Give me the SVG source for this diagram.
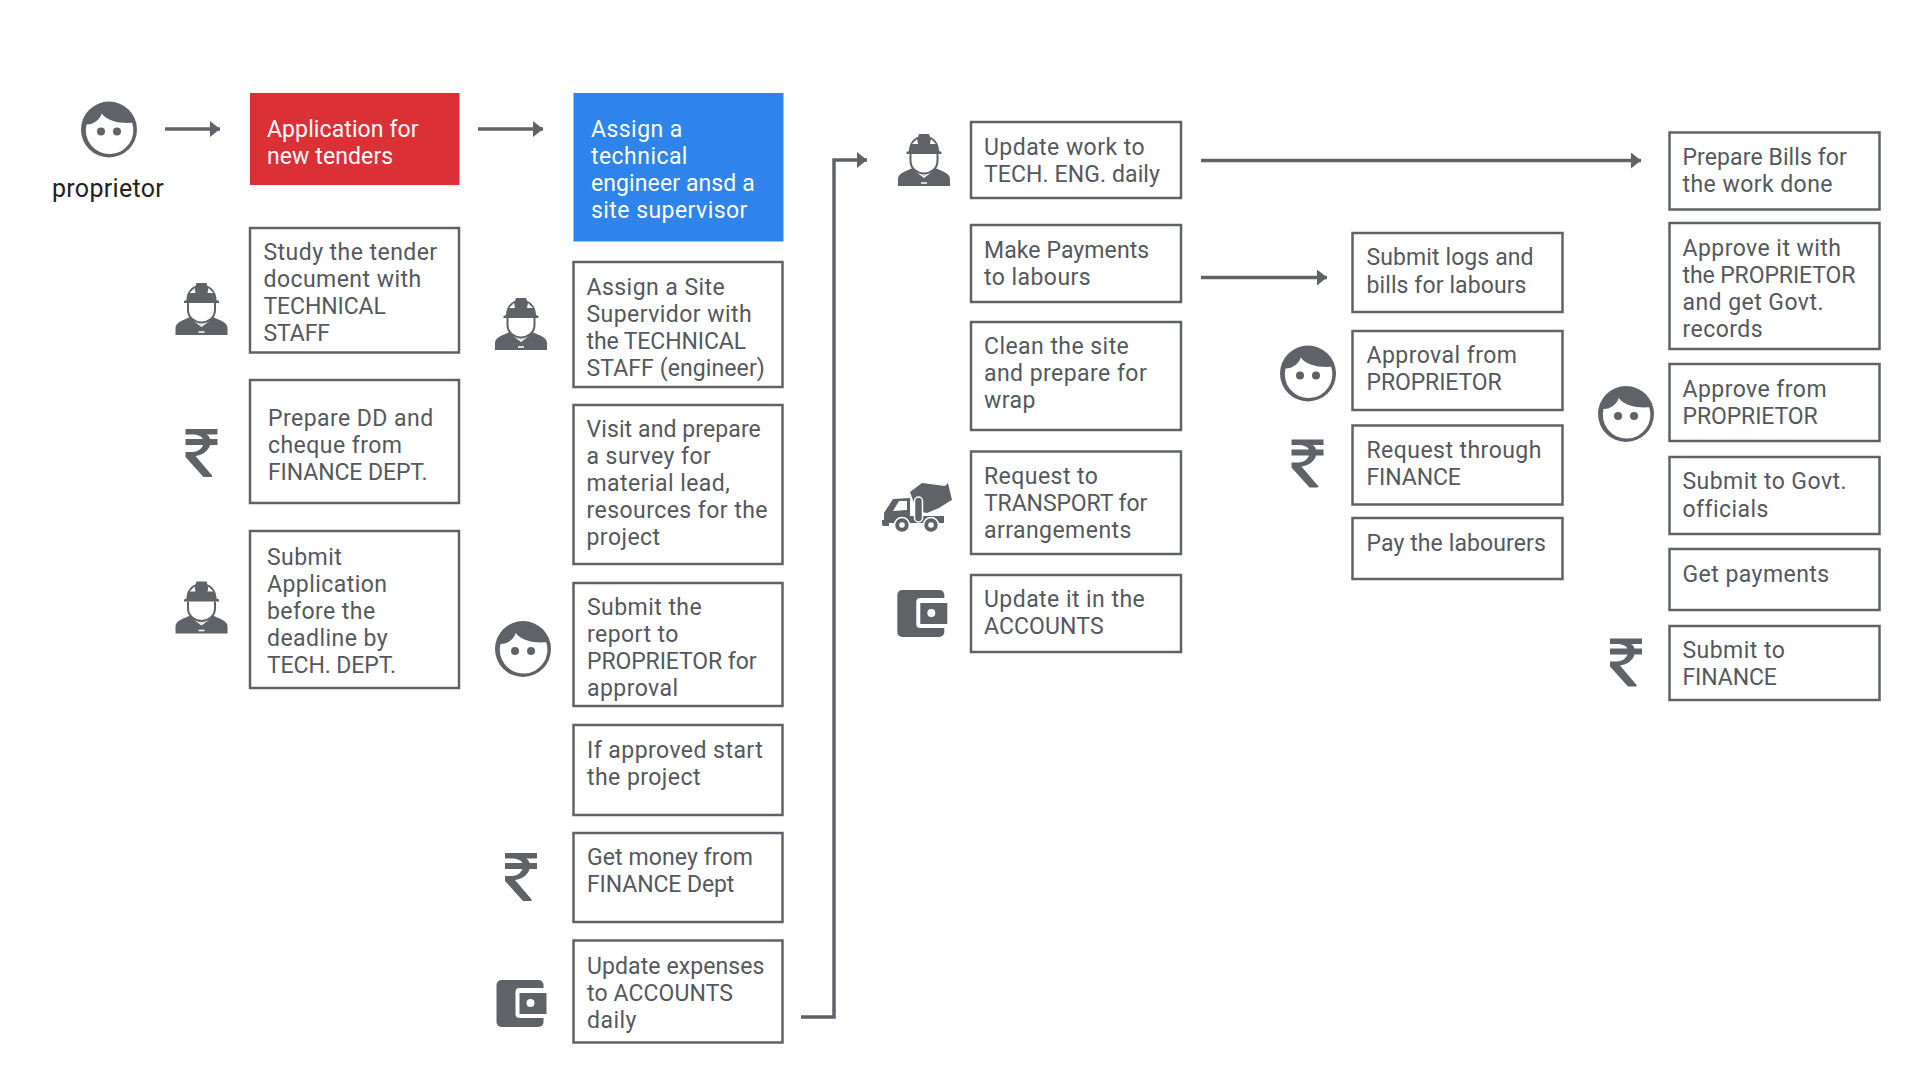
<svg xmlns="http://www.w3.org/2000/svg" width="1920" height="1080" viewBox="0 0 1920 1080">
<style>
text{font-family:Roboto,"Noto Sans",sans-serif;font-size:23px;letter-spacing:.45px;fill:#55585d}
text.c{letter-spacing:-.1px}
text.m{letter-spacing:.1px}
.box{fill:#fff;stroke:#5f6368;stroke-width:2.5}
.line{fill:none;stroke:#5f6368;stroke-width:3.5}
.d{fill:#5f6368}
</style>
<defs>
<marker id="ah" markerUnits="userSpaceOnUse" markerWidth="10" markerHeight="16" refX="10" refY="8" orient="auto"><path d="M0,0L10,8L0,16Z" fill="#5f6368"/></marker>
<g id="face"><circle r="28" class="d"/><path d="M-22.5,-5C-15,-5 -9,-10 -7.3,-16C-1,-8 10,-6 23.2,-6.7A23.8,23.8 0 1 1 -22.5,-5Z" fill="#fff"/><circle cx="-8" cy="2" r="4" class="d"/><circle cx="8" cy="2" r="4" class="d"/></g>
<g id="worker"><path class="d" d="M-26,52L-26,45C-26,39 -18,37 -11,34L0,42L11,34C18,37 26,39 26,45L26,52Z"/><path d="M-8,37L0,43L8,37M-3,49H3" fill="none" stroke="#fff" stroke-width="1.5"/><path d="M-13.5,20L-13.5,27C-13.5,35 -6,39.5 0,39.5C6,39.5 13.5,35 13.5,27L13.5,20" fill="#fff" stroke="#5f6368" stroke-width="2"/><path class="d" d="M-17.5,20L17.5,20L17.5,18L15,17C15,9 10,4 6,3L5,0L-5,0L-6,3C-10,4 -15,9 -15,17L-17.5,18Z"/><path d="M-12,10L-7,5L-6,10ZM12,10L7,5L6,10Z" fill="#fff"/></g>
<path id="rupee" class="d" d="M0,0H32V5.5H21C23,6.5 24,8 24.5,10H32V16H24.5C23,22 17,26 10,27L27,47L26,48L18,48L0,28V23H7C12,23 16,20 17.5,16H0V10H17.5C16,7 12,5.5 7,5.5H0Z"/>
<g id="wallet"><rect width="47" height="47" rx="5" class="d"/><rect x="19" y="8" width="31" height="30" rx="4" fill="#fff"/><rect x="23" y="13" width="27" height="21" class="d"/><circle cx="34" cy="23" r="4" fill="#fff"/></g>
<g id="truck"><path class="d" d="M0,37H2V30L11,16L28,15V33H62V40H7V43H2C0,43 0,41 0,40Z"/><path d="M11,28L17,18H25V27Z" fill="#fff"/><path class="d" d="M28,9L40,0L63,3L66,0L70,17L68,18L57,25L45,30L35,28Z"/><rect x="32.5" y="14" width="8" height="25" rx="4" fill="#5f6368" stroke="#fff" stroke-width="1.5"/><circle cx="20" cy="42" r="7.5" class="d" stroke="#fff" stroke-width="1.5"/><circle cx="20" cy="42" r="2.8" fill="#fff"/><circle cx="49" cy="42" r="7.5" class="d" stroke="#fff" stroke-width="1.5"/><circle cx="49" cy="42" r="2.8" fill="#fff"/></g>
</defs>
<rect width="1920" height="1080" fill="#fff"/>
<g id="connectors">
<path class="line" marker-end="url(#ah)" d="M165,129H220"/>
<path class="line" marker-end="url(#ah)" d="M478,129H543"/>
<path class="line" marker-end="url(#ah)" d="M801,1017H834V160H867"/>
<path class="line" marker-end="url(#ah)" d="M1201,160.5H1641"/>
<path class="line" marker-end="url(#ah)" d="M1201,277.5H1327"/>
</g>
<g id="proprietor"><use href="#face" x="109" y="129.5"/><text x="108" y="197" text-anchor="middle" style="fill:#222;font-size:25px;letter-spacing:.3px">proprietor</text></g>
<g id="n-application"><rect x="250" y="93" width="209.5" height="92" fill="#db3036"/><text class="m" x="267" y="137" style="fill:#fff">Application for</text><text class="m" x="267" y="164" style="fill:#fff">new tenders</text></g>
<g id="n-study"><use href="#worker" x="201.5" y="283"/><rect class="box" x="250" y="228" width="209" height="124.5"/><text x="263.5" y="260">Study the tender</text><text x="263.5" y="287">document with</text><text class="c" x="263.5" y="314">TECHNICAL</text><text class="c" x="263.5" y="341">STAFF</text></g>
<g id="n-prepare"><use href="#rupee" x="185.5" y="429"/><rect class="box" x="250" y="380" width="209" height="123"/><text x="268" y="425.5">Prepare DD and</text><text x="268" y="452.5">cheque from</text><text class="c" x="268" y="479.5">FINANCE DEPT.</text></g>
<g id="n-submit"><use href="#worker" x="201.5" y="581.5"/><rect class="box" x="250" y="531" width="209" height="157"/><text x="267" y="565">Submit</text><text x="267" y="592">Application</text><text x="267" y="619">before the</text><text x="267" y="646">deadline by</text><text class="c" x="267" y="673">TECH. DEPT.</text></g>
<g id="n-assign"><rect x="573.5" y="93" width="210" height="148.5" fill="#2e84ea"/><text x="591" y="137" style="fill:#fff">Assign a</text><text x="591" y="164" style="fill:#fff">technical</text><text class="m" x="591" y="191" style="fill:#fff">engineer ansd a</text><text x="591" y="218" style="fill:#fff">site supervisor</text></g>
<g id="n-site"><use href="#worker" x="521" y="298"/><rect class="box" x="573.5" y="262" width="209" height="125"/><text x="586.5" y="294.5">Assign a Site</text><text x="586.5" y="321.5">Supervidor with</text><text class="c" x="586.5" y="348.5">the TECHNICAL</text><text class="m" x="586.5" y="375.5">STAFF (engineer)</text></g>
<g id="n-visit"><rect class="box" x="573.5" y="405" width="209" height="159"/><text class="m" x="586.5" y="436.6">Visit and prepare</text><text x="586.5" y="463.6">a survey for</text><text x="586.5" y="490.6">material lead,</text><text x="586.5" y="517.6">resources for the</text><text x="586.5" y="544.6">project</text></g>
<g id="n-report"><use href="#face" x="523" y="649"/><rect class="box" x="573.5" y="583" width="209" height="123"/><text x="587" y="615">Submit the</text><text x="587" y="642">report to</text><text class="c" x="587" y="669">PROPRIETOR for</text><text x="587" y="696">approval</text></g>
<g id="n-start"><rect class="box" x="573.5" y="725" width="209" height="90"/><text x="587" y="757.5">If approved start</text><text x="587" y="784.5">the project</text></g>
<g id="n-money"><use href="#rupee" x="505" y="853"/><rect class="box" x="573.5" y="833" width="209" height="89"/><text class="m" x="587" y="865.2">Get money from</text><text class="c" x="587" y="892.2">FINANCE Dept</text></g>
<g id="n-expenses"><use href="#wallet" x="496.5" y="980"/><rect class="box" x="573.5" y="940.5" width="209" height="102"/><text class="m" x="587" y="973.5">Update expenses</text><text class="m" x="587" y="1000.5">to ACCOUNTS</text><text x="587" y="1027.5">daily</text></g>
<g id="n-update"><use href="#worker" x="924" y="134"/><rect class="box" x="971" y="122" width="210" height="76"/><text x="984" y="154.5">Update work to</text><text class="m" x="984" y="181.5">TECH. ENG. daily</text></g>
<g id="n-payments"><rect class="box" x="971" y="225" width="210" height="77"/><text class="m" x="984" y="257.5">Make Payments</text><text x="984" y="284.5">to labours</text></g>
<g id="n-clean"><rect class="box" x="971" y="322" width="210" height="108"/><text x="984" y="353.5">Clean the site</text><text x="984" y="380.5">and prepare for</text><text x="984" y="407.5">wrap</text></g>
<g id="n-transport"><use href="#truck" x="882" y="483"/><rect class="box" x="971" y="451.5" width="210" height="102.5"/><text x="984" y="484">Request to</text><text class="c" x="984" y="511">TRANSPORT for</text><text x="984" y="538">arrangements</text></g>
<g id="n-accounts"><use href="#wallet" x="897.3" y="590"/><rect class="box" x="971" y="575" width="210" height="77"/><text x="984" y="606.7">Update it in the</text><text class="m" x="984" y="633.7">ACCOUNTS</text></g>
<g id="n-logs"><rect class="box" x="1352.5" y="233" width="210" height="79"/><text class="m" x="1366.5" y="265">Submit logs and</text><text class="m" x="1366.5" y="292.5">bills for labours</text></g>
<g id="n-approval"><use href="#face" x="1308" y="373.5"/><rect class="box" x="1352.5" y="331" width="210" height="79"/><text x="1366.5" y="363">Approval from</text><text class="c" x="1366.5" y="390">PROPRIETOR</text></g>
<g id="n-finance"><use href="#rupee" x="1291.5" y="439.5"/><rect class="box" x="1352.5" y="425.5" width="210" height="79"/><text x="1366.5" y="457.5">Request through</text><text class="c" x="1366.5" y="484.5">FINANCE</text></g>
<g id="n-pay"><rect class="box" x="1352.5" y="518" width="210" height="61"/><text class="m" x="1366.5" y="550.5">Pay the labourers</text></g>
<g id="n-bills"><rect class="box" x="1669.5" y="132.5" width="210" height="77"/><text class="m" x="1682.5" y="164.7">Prepare Bills for</text><text x="1682.5" y="191.7">the work done</text></g>
<g id="n-approve"><rect class="box" x="1669.5" y="223" width="210" height="126"/><text x="1682.5" y="255.5">Approve it with</text><text class="c" x="1682.5" y="282.5">the PROPRIETOR</text><text x="1682.5" y="309.5">and get Govt.</text><text x="1682.5" y="336.5">records</text></g>
<g id="n-approve2"><use href="#face" x="1626" y="414"/><rect class="box" x="1669.5" y="364" width="210" height="77"/><text x="1682.5" y="397.4">Approve from</text><text class="c" x="1682.5" y="424.4">PROPRIETOR</text></g>
<g id="n-govt"><rect class="box" x="1669.5" y="457" width="210" height="77"/><text x="1682.5" y="489">Submit to Govt.</text><text x="1682.5" y="516.5">officials</text></g>
<g id="n-getpay"><rect class="box" x="1669.5" y="549" width="210" height="61"/><text x="1682.5" y="582">Get payments</text></g>
<g id="n-submitfin"><use href="#rupee" x="1610" y="638.5"/><rect class="box" x="1669.5" y="626" width="210" height="74"/><text x="1682.5" y="658">Submit to</text><text class="c" x="1682.5" y="685">FINANCE</text></g>
</svg>
